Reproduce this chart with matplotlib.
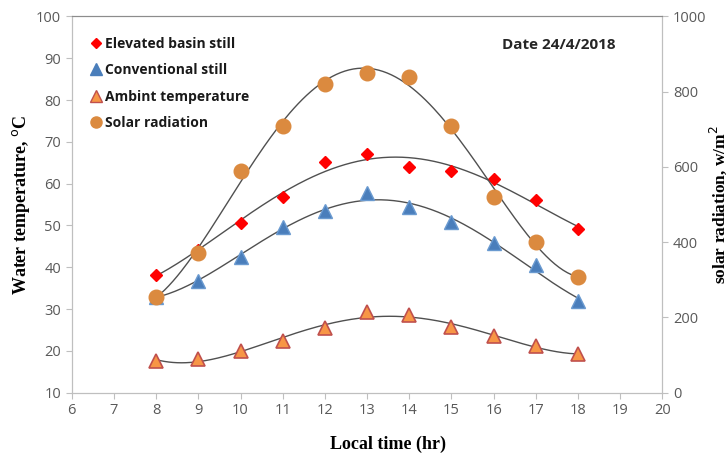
import numpy as np
import matplotlib
matplotlib.use("Agg")
import matplotlib.pyplot as plt
from matplotlib.lines import Line2D

# readings from the figure
hours = [8, 9, 10, 11, 12, 13, 14, 15, 16, 17, 18]
elevated = [38.2, 44.1, 50.7, 56.9, 65.1, 67.0, 64.1, 63.1, 61.1, 56.2, 49.1]
conventional = [33.0, 36.8, 42.5, 49.6, 53.5, 57.7, 54.5, 50.8, 45.7, 40.5, 32.0]
ambient = [17.6, 18.1, 20.0, 22.4, 25.4, 29.4, 28.6, 25.6, 23.6, 21.2, 19.2]
solar = [255, 370, 590, 708, 820, 850, 838, 710, 521, 400, 308]

x_ticks = list(range(6, 21))
temp_ticks = list(range(10, 101, 10))
solar_ticks = list(range(0, 1001, 200))

TICK_GRAY = "#595959"
SPINE_GRAY = "#BFBFBF"
TREND = "#505050"


def trend(ax, x, y, deg=4):
    coef = np.polyfit(x, y, deg)
    xs = np.linspace(min(x), max(x), 200)
    ax.plot(xs, np.polyval(coef, xs), color=TREND, lw=1.0, zorder=2)


fig = plt.figure(figsize=(7.28, 4.58), dpi=100)
ax = fig.add_axes([0.0985, 0.1426, 0.8115, 0.8214])
ax2 = ax.twinx()

trend(ax, hours, elevated)
trend(ax, hours, conventional)
trend(ax, hours, ambient)
trend(ax2, hours, solar)

ax.plot(hours, elevated, ls="none", marker="D", ms=6.5, color="#FF0000", zorder=3)
ax.plot(hours, conventional, ls="none", marker="^", ms=10, color="#4A7EBB",
        mec="#6A9AD0", zorder=3)
ax.plot(hours, ambient, ls="none", marker="^", ms=10, color="#F79646",
        mec="#C0504D", mew=1.2, zorder=3)
ax2.plot(hours, solar, ls="none", marker="o", ms=10.5, color="#DB8A3F", zorder=3)

ax.set_xlim(6, 20)
ax.set_ylim(10, 100)
ax2.set_ylim(0, 1000)
ax.set_xticks(x_ticks)
ax.set_yticks(temp_ticks)
ax2.set_yticks(solar_ticks)

for a in (ax, ax2):
    a.tick_params(colors=SPINE_GRAY, labelcolor=TICK_GRAY, labelsize=10.5,
                  length=4, width=0.8, direction="out")
    for side in ("left", "right", "bottom"):
        a.spines[side].set_color(SPINE_GRAY)
    a.spines["top"].set_color("#8C8C8C")
    for lab in a.get_xticklabels() + a.get_yticklabels():
        lab.set_family("Open Sans")

ax.set_xlabel("Local time (hr)", family="Liberation Serif", fontweight="bold",
              fontsize=13)
ax.xaxis.set_label_coords(0.535, -0.115)
ax.set_ylabel("Water temperature, $^{\\rm o}$C", family="Liberation Serif",
              fontweight="bold", fontsize=13)
ax.yaxis.set_label_coords(-0.068, 0.5)
ax2.set_ylabel("solar radiation, w/m$^{\\rm 2}$", family="Liberation Serif",
               fontweight="bold", fontsize=12.5)
ax2.yaxis.set_label_coords(1.077, 0.5)

ax.text(0.92, 0.925, "Date 24/4/2018", transform=ax.transAxes, ha="right",
        va="center", fontsize=11, fontweight="bold", family="Open Sans",
        color="#262626")

handles = [
    Line2D([], [], ls="none", marker="D", ms=5.5, color="#FF0000"),
    Line2D([], [], ls="none", marker="^", ms=8, color="#4A7EBB"),
    Line2D([], [], ls="none", marker="^", ms=8, color="#F79646", mec="#C0504D"),
    Line2D([], [], ls="none", marker="o", ms=8, color="#DB8A3F"),
]
labels = ["Elevated basin still", "Conventional still", "Ambint temperature",
          "Solar radiation"]
leg = ax.legend(handles, labels, loc="upper left", bbox_to_anchor=(0.01, 0.98),
                frameon=False, handlelength=0.8, handletextpad=0.3,
                labelspacing=0.9, prop={"family": "Open Sans", "weight": "bold",
                                        "size": 10})
for t in leg.get_texts():
    t.set_color("#1A1A1A")

fig.savefig("out.png", dpi=100)
